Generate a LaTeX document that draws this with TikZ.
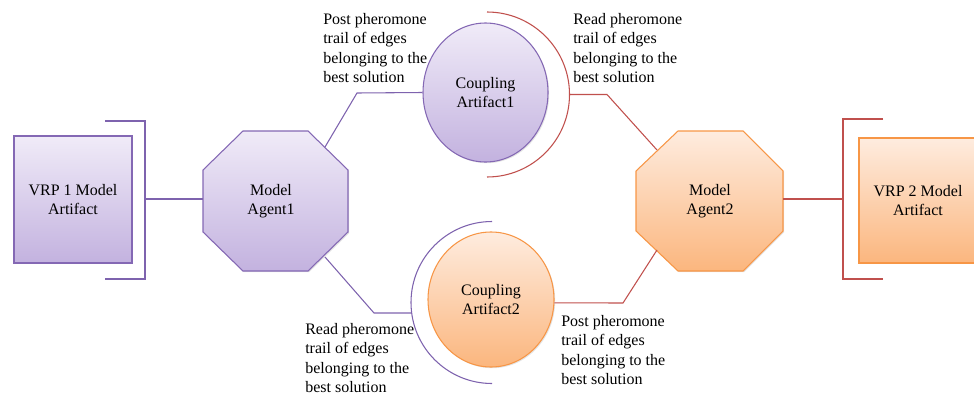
\documentclass[tikz,border=0pt]{standalone}
\usepackage{fontspec}
\setmainfont{Liberation Serif}
\usetikzlibrary{calc,shadows,shapes.geometric}
\definecolor{purpB}{HTML}{8468B4}
\definecolor{purpT}{HTML}{F0EBF8}
\definecolor{purpBot}{HTML}{C3B2DF}
\definecolor{orB}{HTML}{F79646}
\definecolor{orT}{HTML}{FEECDF}
\definecolor{orBot}{HTML}{FBB67E}
\definecolor{redL}{HTML}{C0504D}
\definecolor{purpL}{HTML}{7E63AE}
\begin{document}
\begin{tikzpicture}[x=0.75pt,y=-0.75pt,
  font=\fontsize{12}{14.6}\selectfont,
  shad/.style={drop shadow={shadow xshift=0.9pt,shadow yshift=-0.9pt,opacity=0.22}},
  pshape/.style={draw=purpB,line width=0.8pt,top color=purpT,bottom color=purpBot,shad},
  oshape/.style={draw=orB,line width=0.8pt,top color=orT,bottom color=orBot,shad},
  boxnode/.style={inner sep=0pt,align=center},
  plink/.style={draw=purpL,line width=0.8pt},
  rlink/.style={draw=redL,line width=0.8pt},
  lbl/.style={anchor=north west,inner sep=0pt,align=left},
  txt/.style={inner sep=0pt,align=center}
]
\useasboundingbox (0,0) rectangle (974,396);
\clip (0,0) rectangle (974,396);

% model artifacts
\node[pshape,boxnode,minimum width=88.5pt,minimum height=95.25pt] (vrp1) at (73,199.5) {VRP 1 Model\\Artifact};
\node[oshape,boxnode,minimum width=88.5pt,minimum height=93.75pt] (vrp2) at (918,200.5) {VRP 2 Model\\Artifact};

% agents (octagons)
\path[pshape] (243,131) -- (308,131) -- (348,170) -- (348,232) -- (308,271) -- (243,271) -- (203,232) -- (203,170) -- cycle;
\path[oshape] (678,131) -- (743,131) -- (783,171) -- (783,231) -- (743,271) -- (678,271) -- (636,231) -- (636,171) -- cycle;
\node[txt] (ag1) at (271,201) {Model\\Agent1};
\node[txt] (ag2) at (710,201) {Model\\Agent2};
\coordinate (ag1w) at (203,199);
\coordinate (ag1ne) at (325,147);
\coordinate (ag1se) at (325,257);
\coordinate (ag2e) at (783,199);
\coordinate (ag2nw) at (657,150);
\coordinate (ag2sw) at (657,250);

% coupling artifacts
\node[pshape,ellipse,boxnode,minimum width=93.75pt,minimum height=104.25pt] (cp1) at (485.5,92.5) {Coupling\\Artifact1};
\node[oshape,ellipse,boxnode,minimum width=94.5pt,minimum height=101.25pt] (cp2) at (491,299.5) {Coupling\\Artifact2};

% brackets
\draw[plink] (105,121) -- (145,121) -- (145,279) -- (105,279);
\coordinate (br1) at (145,199);
\draw[rlink] (883,119) -- (843,119) -- (843,279) -- (883,279);
\coordinate (br2) at (843,199);

% arcs around coupling artifacts
\draw[rlink] (487,12) arc[start angle=90,end angle=-90,radius=61.875pt];
\coordinate (arc1e) at (569.5,94.5);
\draw[plink] (492,221.5) arc[start angle=90,end angle=270,radius=60.75pt];
\coordinate (arc2w) at (411.6,313);

% connectors
\draw[plink] (br1) -- (ag1w);
\draw[plink] (ag1ne) -- (357,93) -- (cp1.west);
\draw[rlink] (arc1e) -- (607,94.5) -- (ag2nw);
\draw[plink] (ag1se) -- (374,313) -- (arc2w);
\draw[rlink] (cp2.-3) -- (623,303) -- (ag2sw);
\draw[rlink] (ag2e) -- (br2);

% labels
\node[lbl] (l1) at (323,13) {Post pheromone\\trail of edges\\belonging to the\\best solution};
\node[lbl] (l2) at (573,13) {Read pheromone\\trail of edges\\belonging to the\\best solution};
\node[lbl] (l3) at (305,323) {Read pheromone\\trail of edges\\belonging to the\\best solution};
\node[lbl] (l4) at (561,315) {Post pheromone\\trail of edges\\belonging to the\\best solution};
\end{tikzpicture}
\end{document}
